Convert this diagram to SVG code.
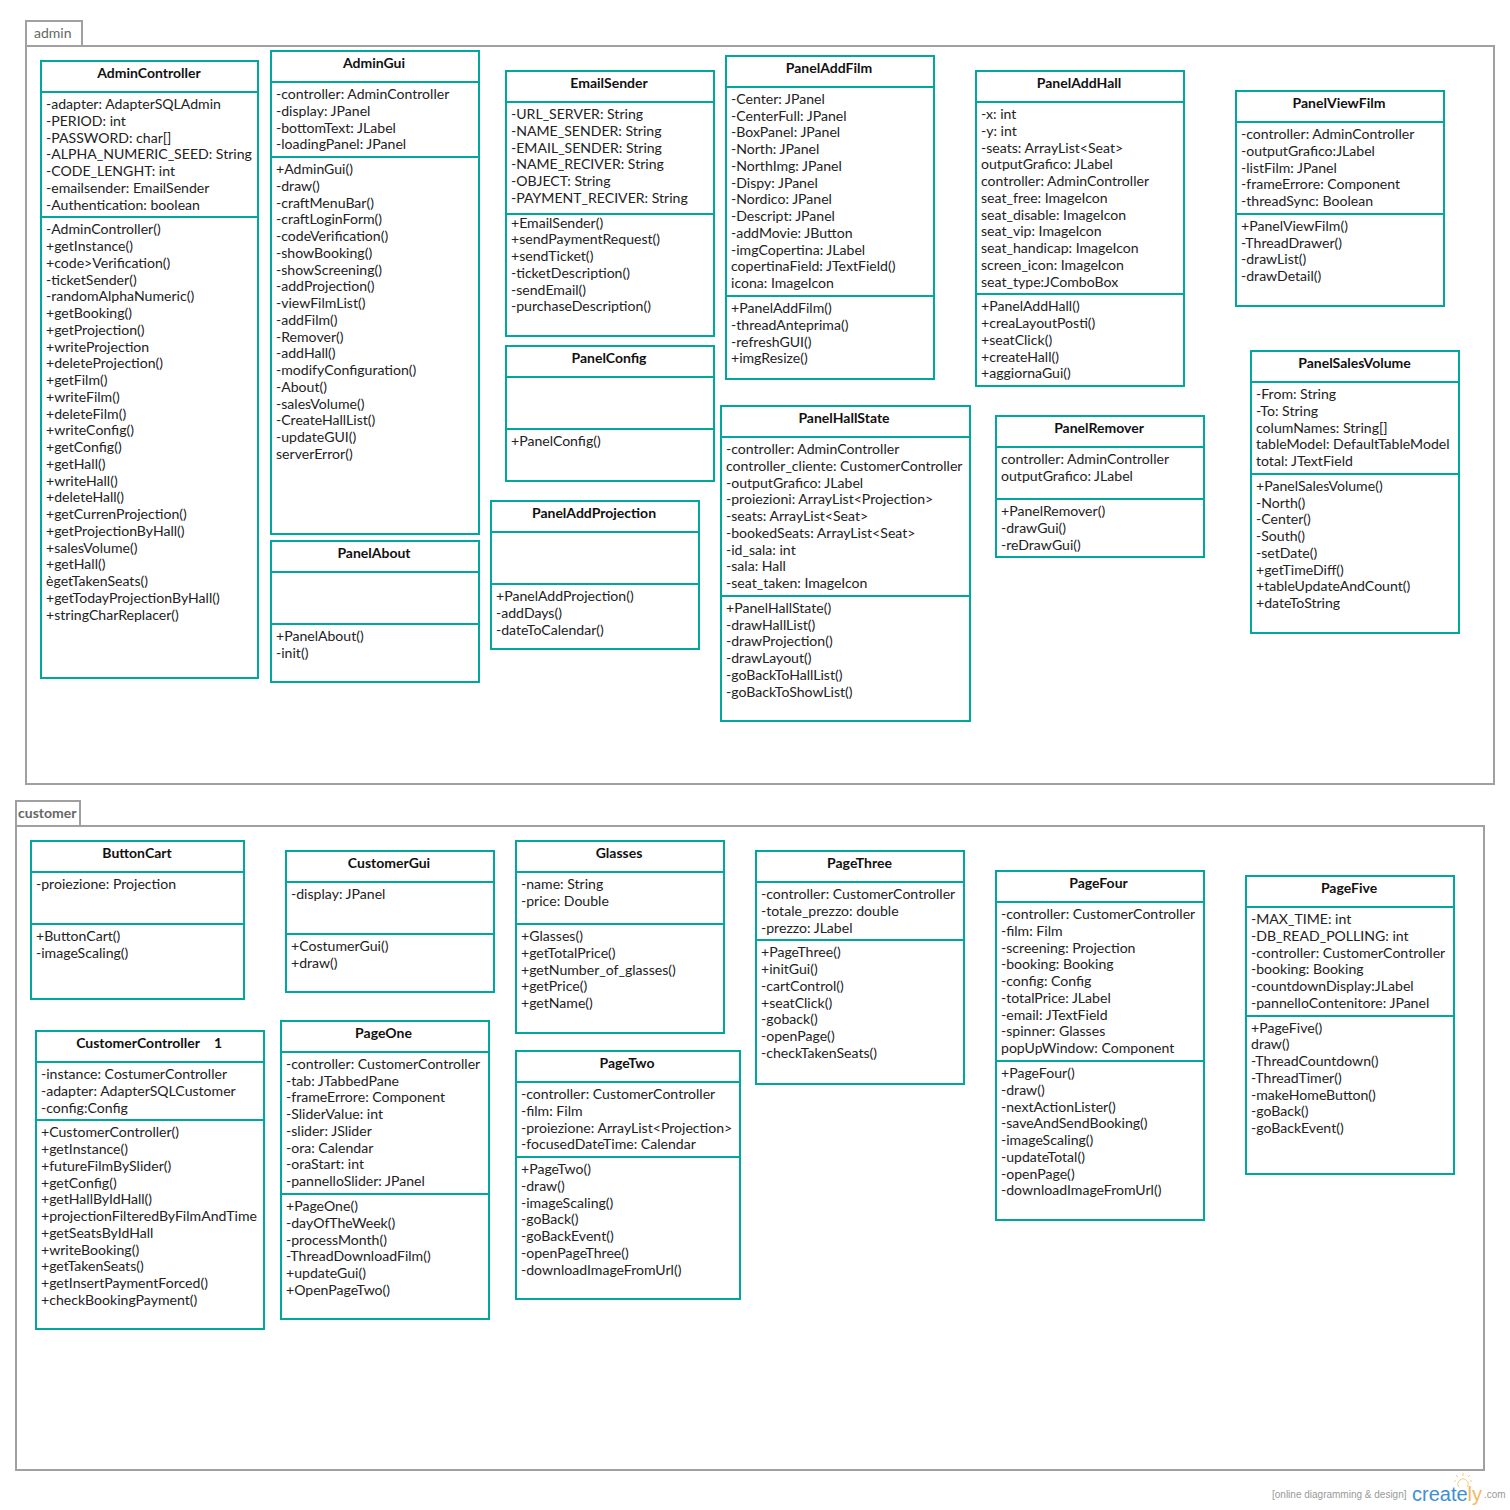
<svg xmlns="http://www.w3.org/2000/svg" width="1510" height="1510" viewBox="0 0 1510 1510">
<style>
text{font-family:Lato,"Open Sans",sans-serif;font-size:14.08px;fill:#222}
.title{font-size:14px;font-weight:700;text-anchor:middle;fill:#111}
.box{fill:#fff;stroke:#00a79d;stroke-width:2}
.sep{stroke:#00a79d;stroke-width:2;fill:none}
.frame{fill:#fff;stroke:#a0a0a0;stroke-width:2}
.tab{font-size:14px;fill:#666}
.tabb{font-size:14px;font-weight:700;fill:#666}
.wm{font-family:"Liberation Sans",sans-serif;font-size:10px;fill:#999}
.logo{font-family:"Liberation Sans",sans-serif;font-size:20px;fill:#3f8fd2}
.bulb{fill:none;stroke:#f9c877;stroke-width:1}
</style>
<g id="pkg-admin"><rect class="frame" x="26" y="21" width="56" height="25"/><rect class="frame" x="26" y="46" width="1468" height="738"/><text class="tab" x="34" y="38">admin</text></g>
<g id="pkg-customer"><rect class="frame" x="16" y="801" width="64" height="25"/><rect class="frame" x="16" y="826" width="1468" height="644"/><text class="tabb" x="18" y="818">customer</text></g>
<g id="AdminController"><rect class="box" x="41" y="61" width="217" height="617"/><path class="sep" d="M41 92H258M41 217H258"/><text class="title" x="149" y="78">AdminController</text>
<text><tspan x="46" y="109">-adapter: AdapterSQLAdmin</tspan><tspan x="46" dy="16.75">-PERIOD: int</tspan><tspan x="46" dy="16.75">-PASSWORD: char[]</tspan><tspan x="46" dy="16.75">-ALPHA_NUMERIC_SEED: String</tspan><tspan x="46" dy="16.75">-CODE_LENGHT: int</tspan><tspan x="46" dy="16.75">-emailsender: EmailSender</tspan><tspan x="46" dy="16.75">-Authentication: boolean</tspan></text>
<text><tspan x="46" y="234.3">-AdminController()</tspan><tspan x="46" dy="16.75">+getInstance()</tspan><tspan x="46" dy="16.75">+code&gt;Verification()</tspan><tspan x="46" dy="16.75">-ticketSender()</tspan><tspan x="46" dy="16.75">-randomAlphaNumeric()</tspan><tspan x="46" dy="16.75">+getBooking()</tspan><tspan x="46" dy="16.75">+getProjection()</tspan><tspan x="46" dy="16.75">+writeProjection</tspan><tspan x="46" dy="16.75">+deleteProjection()</tspan><tspan x="46" dy="16.75">+getFilm()</tspan><tspan x="46" dy="16.75">+writeFilm()</tspan><tspan x="46" dy="16.75">+deleteFilm()</tspan><tspan x="46" dy="16.75">+writeConfig()</tspan><tspan x="46" dy="16.75">+getConfig()</tspan><tspan x="46" dy="16.75">+getHall()</tspan><tspan x="46" dy="16.75">+writeHall()</tspan><tspan x="46" dy="16.75">+deleteHall()</tspan><tspan x="46" dy="16.75">+getCurrenProjection()</tspan><tspan x="46" dy="16.75">+getProjectionByHall()</tspan><tspan x="46" dy="16.75">+salesVolume()</tspan><tspan x="46" dy="16.75">+getHall()</tspan><tspan x="46" dy="16.75">ègetTakenSeats()</tspan><tspan x="46" dy="16.75">+getTodayProjectionByHall()</tspan><tspan x="46" dy="16.75">+stringCharReplacer()</tspan></text></g>
<g id="AdminGui"><rect class="box" x="271" y="51" width="208" height="483"/><path class="sep" d="M271 82H479M271 157H479"/><text class="title" x="374" y="68">AdminGui</text>
<text><tspan x="276" y="99">-controller: AdminController</tspan><tspan x="276" dy="16.75">-display: JPanel</tspan><tspan x="276" dy="16.75">-bottomText: JLabel</tspan><tspan x="276" dy="16.75">-loadingPanel: JPanel</tspan></text>
<text><tspan x="276" y="174">+AdminGui()</tspan><tspan x="276" dy="16.75">-draw()</tspan><tspan x="276" dy="16.75">-craftMenuBar()</tspan><tspan x="276" dy="16.75">-craftLoginForm()</tspan><tspan x="276" dy="16.75">-codeVerification()</tspan><tspan x="276" dy="16.75">-showBooking()</tspan><tspan x="276" dy="16.75">-showScreening()</tspan><tspan x="276" dy="16.75">-addProjection()</tspan><tspan x="276" dy="16.75">-viewFilmList()</tspan><tspan x="276" dy="16.75">-addFilm()</tspan><tspan x="276" dy="16.75">-Remover()</tspan><tspan x="276" dy="16.75">-addHall()</tspan><tspan x="276" dy="16.75">-modifyConfiguration()</tspan><tspan x="276" dy="16.75">-About()</tspan><tspan x="276" dy="16.75">-salesVolume()</tspan><tspan x="276" dy="16.75">-CreateHallList()</tspan><tspan x="276" dy="16.75">-updateGUI()</tspan><tspan x="276" dy="16.75">serverError()</tspan></text></g>
<g id="PanelAbout"><rect class="box" x="271" y="541" width="208" height="141"/><path class="sep" d="M271 572H479M271 624H479"/><text class="title" x="374" y="558">PanelAbout</text>
<text><tspan x="276" y="641">+PanelAbout()</tspan><tspan x="276" dy="16.75">-init()</tspan></text></g>
<g id="EmailSender"><rect class="box" x="506" y="71" width="208" height="265"/><path class="sep" d="M506 102H714M506 214H714"/><text class="title" x="609" y="88">EmailSender</text>
<text><tspan x="511" y="119">-URL_SERVER: String</tspan><tspan x="511" dy="16.75">-NAME_SENDER: String</tspan><tspan x="511" dy="16.75">-EMAIL_SENDER: String</tspan><tspan x="511" dy="16.75">-NAME_RECIVER: String</tspan><tspan x="511" dy="16.75">-OBJECT: String</tspan><tspan x="511" dy="16.75">-PAYMENT_RECIVER: String</tspan></text>
<text><tspan x="511" y="227.6">+EmailSender()</tspan><tspan x="511" dy="16.75">+sendPaymentRequest()</tspan><tspan x="511" dy="16.75">+sendTicket()</tspan><tspan x="511" dy="16.75">-ticketDescription()</tspan><tspan x="511" dy="16.75">-sendEmail()</tspan><tspan x="511" dy="16.75">-purchaseDescription()</tspan></text></g>
<g id="PanelConfig"><rect class="box" x="506" y="346" width="208" height="135"/><path class="sep" d="M506 377H714M506 429H714"/><text class="title" x="609" y="363">PanelConfig</text>
<text x="511" y="446">+PanelConfig()</text></g>
<g id="PanelAddProjection"><rect class="box" x="491" y="501" width="208" height="148"/><path class="sep" d="M491 532H699M491 584H699"/><text class="title" x="594" y="518">PanelAddProjection</text>
<text><tspan x="496" y="601">+PanelAddProjection()</tspan><tspan x="496" dy="16.75">-addDays()</tspan><tspan x="496" dy="16.75">-dateToCalendar()</tspan></text></g>
<g id="PanelAddFilm"><rect class="box" x="726" y="56" width="208" height="323"/><path class="sep" d="M726 87H934M726 296H934"/><text class="title" x="829" y="73">PanelAddFilm</text>
<text><tspan x="731" y="103.9">-Center: JPanel</tspan><tspan x="731" dy="16.75">-CenterFull: JPanel</tspan><tspan x="731" dy="16.75">-BoxPanel: JPanel</tspan><tspan x="731" dy="16.75">-North: JPanel</tspan><tspan x="731" dy="16.75">-NorthImg: JPanel</tspan><tspan x="731" dy="16.75">-Dispy: JPanel</tspan><tspan x="731" dy="16.75">-Nordico: JPanel</tspan><tspan x="731" dy="16.75">-Descript: JPanel</tspan><tspan x="731" dy="16.75">-addMovie: JButton</tspan><tspan x="731" dy="16.75">-imgCopertina: JLabel</tspan><tspan x="731" dy="16.75">copertinaField: JTextField()</tspan><tspan x="731" dy="16.75">icona: ImageIcon</tspan></text>
<text><tspan x="731" y="313">+PanelAddFilm()</tspan><tspan x="731" dy="16.75">-threadAnteprima()</tspan><tspan x="731" dy="16.75">-refreshGUI()</tspan><tspan x="731" dy="16.75">+imgResize()</tspan></text></g>
<g id="PanelHallState"><rect class="box" x="721" y="406" width="249" height="315"/><path class="sep" d="M721 437H970M721 596H970"/><text class="title" x="844" y="423">PanelHallState</text>
<text><tspan x="726" y="454">-controller: AdminController</tspan><tspan x="726" dy="16.75">controller_cliente: CustomerController</tspan><tspan x="726" dy="16.75">-outputGrafico: JLabel</tspan><tspan x="726" dy="16.75">-proiezioni: ArrayList&lt;Projection&gt;</tspan><tspan x="726" dy="16.75">-seats: ArrayList&lt;Seat&gt;</tspan><tspan x="726" dy="16.75">-bookedSeats: ArrayList&lt;Seat&gt;</tspan><tspan x="726" dy="16.75">-id_sala: int</tspan><tspan x="726" dy="16.75">-sala: Hall</tspan><tspan x="726" dy="16.75">-seat_taken: ImageIcon</tspan></text>
<text><tspan x="726" y="612.9">+PanelHallState()</tspan><tspan x="726" dy="16.75">-drawHallList()</tspan><tspan x="726" dy="16.75">-drawProjection()</tspan><tspan x="726" dy="16.75">-drawLayout()</tspan><tspan x="726" dy="16.75">-goBackToHallList()</tspan><tspan x="726" dy="16.75">-goBackToShowList()</tspan></text></g>
<g id="PanelAddHall"><rect class="box" x="976" y="71" width="208" height="315"/><path class="sep" d="M976 102H1184M976 294H1184"/><text class="title" x="1079" y="88">PanelAddHall</text>
<text><tspan x="981" y="119">-x: int</tspan><tspan x="981" dy="16.75">-y: int</tspan><tspan x="981" dy="16.75">-seats: ArrayList&lt;Seat&gt;</tspan><tspan x="981" dy="16.75">outputGrafico: JLabel</tspan><tspan x="981" dy="16.75">controller: AdminController</tspan><tspan x="981" dy="16.75">seat_free: ImageIcon</tspan><tspan x="981" dy="16.75">seat_disable: ImageIcon</tspan><tspan x="981" dy="16.75">seat_vip: ImageIcon</tspan><tspan x="981" dy="16.75">seat_handicap: ImageIcon</tspan><tspan x="981" dy="16.75">screen_icon: ImageIcon</tspan><tspan x="981" dy="16.75">seat_type:JComboBox</tspan></text>
<text><tspan x="981" y="311.3">+PanelAddHall()</tspan><tspan x="981" dy="16.75">+creaLayoutPosti()</tspan><tspan x="981" dy="16.75">+seatClick()</tspan><tspan x="981" dy="16.75">+createHall()</tspan><tspan x="981" dy="16.75">+aggiornaGui()</tspan></text></g>
<g id="PanelRemover"><rect class="box" x="996" y="416" width="208" height="141"/><path class="sep" d="M996 447H1204M996 499H1204"/><text class="title" x="1099" y="433">PanelRemover</text>
<text><tspan x="1001" y="464">controller: AdminController</tspan><tspan x="1001" dy="16.75">outputGrafico: JLabel</tspan></text>
<text><tspan x="1001" y="516">+PanelRemover()</tspan><tspan x="1001" dy="16.75">-drawGui()</tspan><tspan x="1001" dy="16.75">-reDrawGui()</tspan></text></g>
<g id="PanelViewFilm"><rect class="box" x="1236" y="91" width="208" height="215"/><path class="sep" d="M1236 122H1444M1236 214H1444"/><text class="title" x="1339" y="108">PanelViewFilm</text>
<text><tspan x="1241" y="139">-controller: AdminController</tspan><tspan x="1241" dy="16.75">-outputGrafico:JLabel</tspan><tspan x="1241" dy="16.75">-listFilm: JPanel</tspan><tspan x="1241" dy="16.75">-frameErrore: Component</tspan><tspan x="1241" dy="16.75">-threadSync: Boolean</tspan></text>
<text><tspan x="1241" y="230.9">+PanelViewFilm()</tspan><tspan x="1241" dy="16.75">-ThreadDrawer()</tspan><tspan x="1241" dy="16.75">-drawList()</tspan><tspan x="1241" dy="16.75">-drawDetail()</tspan></text></g>
<g id="PanelSalesVolume"><rect class="box" x="1251" y="351" width="208" height="282"/><path class="sep" d="M1251 382H1459M1251 474H1459"/><text class="title" x="1354.5" y="368">PanelSalesVolume</text>
<text><tspan x="1256" y="399">-From: String</tspan><tspan x="1256" dy="16.75">-To: String</tspan><tspan x="1256" dy="16.75">columNames: String[]</tspan><tspan x="1256" dy="16.75">tableModel: DefaultTableModel</tspan><tspan x="1256" dy="16.75">total: JTextField</tspan></text>
<text><tspan x="1256" y="490.9">+PanelSalesVolume()</tspan><tspan x="1256" dy="16.75">-North()</tspan><tspan x="1256" dy="16.75">-Center()</tspan><tspan x="1256" dy="16.75">-South()</tspan><tspan x="1256" dy="16.75">-setDate()</tspan><tspan x="1256" dy="16.75">+getTimeDiff()</tspan><tspan x="1256" dy="16.75">+tableUpdateAndCount()</tspan><tspan x="1256" dy="16.75">+dateToString</tspan></text></g>
<g id="ButtonCart"><rect class="box" x="31" y="841" width="213" height="158"/><path class="sep" d="M31 872H244M31 924H244"/><text class="title" x="137" y="858">ButtonCart</text>
<text x="36" y="889">-proiezione: Projection</text>
<text><tspan x="36" y="941">+ButtonCart()</tspan><tspan x="36" dy="16.75">-imageScaling()</tspan></text></g>
<g id="CustomerGui"><rect class="box" x="286" y="851" width="208" height="141"/><path class="sep" d="M286 882H494M286 934H494"/><text class="title" x="389" y="868">CustomerGui</text>
<text x="291" y="899">-display: JPanel</text>
<text><tspan x="291" y="951">+CostumerGui()</tspan><tspan x="291" dy="16.75">+draw()</tspan></text></g>
<g id="Glasses"><rect class="box" x="516" y="841" width="208" height="192"/><path class="sep" d="M516 872H724M516 924H724"/><text class="title" x="619" y="858">Glasses</text>
<text><tspan x="521" y="889">-name: String</tspan><tspan x="521" dy="16.75">-price: Double</tspan></text>
<text><tspan x="521" y="941">+Glasses()</tspan><tspan x="521" dy="16.75">+getTotalPrice()</tspan><tspan x="521" dy="16.75">+getNumber_of_glasses()</tspan><tspan x="521" dy="16.75">+getPrice()</tspan><tspan x="521" dy="16.75">+getName()</tspan></text></g>
<g id="PageThree"><rect class="box" x="756" y="851" width="208" height="233"/><path class="sep" d="M756 882H964M756 940H964"/><text class="title" x="859.5" y="868">PageThree</text>
<text><tspan x="761" y="899">-controller: CustomerController</tspan><tspan x="761" dy="16.75">-totale_prezzo: double</tspan><tspan x="761" dy="16.75">-prezzo: JLabel</tspan></text>
<text><tspan x="761" y="957.3">+PageThree()</tspan><tspan x="761" dy="16.75">+initGui()</tspan><tspan x="761" dy="16.75">-cartControl()</tspan><tspan x="761" dy="16.75">+seatClick()</tspan><tspan x="761" dy="16.75">-goback()</tspan><tspan x="761" dy="16.75">-openPage()</tspan><tspan x="761" dy="16.75">-checkTakenSeats()</tspan></text></g>
<g id="PageFour"><rect class="box" x="996" y="871" width="208" height="349"/><path class="sep" d="M996 902H1204M996 1061H1204"/><text class="title" x="1098.5" y="888">PageFour</text>
<text><tspan x="1001" y="919">-controller: CustomerController</tspan><tspan x="1001" dy="16.75">-film: Film</tspan><tspan x="1001" dy="16.75">-screening: Projection</tspan><tspan x="1001" dy="16.75">-booking: Booking</tspan><tspan x="1001" dy="16.75">-config: Config</tspan><tspan x="1001" dy="16.75">-totalPrice: JLabel</tspan><tspan x="1001" dy="16.75">-email: JTextField</tspan><tspan x="1001" dy="16.75">-spinner: Glasses</tspan><tspan x="1001" dy="16.75">popUpWindow: Component</tspan></text>
<text><tspan x="1001" y="1078">+PageFour()</tspan><tspan x="1001" dy="16.75">-draw()</tspan><tspan x="1001" dy="16.75">-nextActionLister()</tspan><tspan x="1001" dy="16.75">-saveAndSendBooking()</tspan><tspan x="1001" dy="16.75">-imageScaling()</tspan><tspan x="1001" dy="16.75">-updateTotal()</tspan><tspan x="1001" dy="16.75">-openPage()</tspan><tspan x="1001" dy="16.75">-downloadImageFromUrl()</tspan></text></g>
<g id="PageFive"><rect class="box" x="1246" y="876" width="208" height="298"/><path class="sep" d="M1246 907H1454M1246 1016H1454"/><text class="title" x="1349" y="893">PageFive</text>
<text><tspan x="1251" y="924">-MAX_TIME: int</tspan><tspan x="1251" dy="16.75">-DB_READ_POLLING: int</tspan><tspan x="1251" dy="16.75">-controller: CustomerController</tspan><tspan x="1251" dy="16.75">-booking: Booking</tspan><tspan x="1251" dy="16.75">-countdownDisplay:JLabel</tspan><tspan x="1251" dy="16.75">-pannelloContenitore: JPanel</tspan></text>
<text><tspan x="1251" y="1032.6">+PageFive()</tspan><tspan x="1251" dy="16.75">draw()</tspan><tspan x="1251" dy="16.75">-ThreadCountdown()</tspan><tspan x="1251" dy="16.75">-ThreadTimer()</tspan><tspan x="1251" dy="16.75">-makeHomeButton()</tspan><tspan x="1251" dy="16.75">-goBack()</tspan><tspan x="1251" dy="16.75">-goBackEvent()</tspan></text></g>
<g id="CustomerController"><rect class="box" x="36" y="1031" width="228" height="298"/><path class="sep" d="M36 1062H264M36 1120H264"/><text class="title" x="138" y="1048">CustomerController</text><text class="title" x="218" y="1048">1</text>
<text><tspan x="41" y="1079">-instance: CostumerController</tspan><tspan x="41" dy="16.75">-adapter: AdapterSQLCustomer</tspan><tspan x="41" dy="16.75">-config:Config</tspan></text>
<text><tspan x="41" y="1137.3">+CustomerController()</tspan><tspan x="41" dy="16.75">+getInstance()</tspan><tspan x="41" dy="16.75">+futureFilmBySlider()</tspan><tspan x="41" dy="16.75">+getConfig()</tspan><tspan x="41" dy="16.75">+getHallByIdHall()</tspan><tspan x="41" dy="16.75">+projectionFilteredByFilmAndTime</tspan><tspan x="41" dy="16.75">+getSeatsByIdHall</tspan><tspan x="41" dy="16.75">+writeBooking()</tspan><tspan x="41" dy="16.75">+getTakenSeats()</tspan><tspan x="41" dy="16.75">+getInsertPaymentForced()</tspan><tspan x="41" dy="16.75">+checkBookingPayment()</tspan></text></g>
<g id="PageOne"><rect class="box" x="281" y="1021" width="208" height="298"/><path class="sep" d="M281 1052H489M281 1194H489"/><text class="title" x="383.5" y="1038">PageOne</text>
<text><tspan x="286" y="1068.9">-controller: CustomerController</tspan><tspan x="286" dy="16.75">-tab: JTabbedPane</tspan><tspan x="286" dy="16.75">-frameErrore: Component</tspan><tspan x="286" dy="16.75">-SliderValue: int</tspan><tspan x="286" dy="16.75">-slider: JSlider</tspan><tspan x="286" dy="16.75">-ora: Calendar</tspan><tspan x="286" dy="16.75">-oraStart: int</tspan><tspan x="286" dy="16.75">-pannelloSlider: JPanel</tspan></text>
<text><tspan x="286" y="1211">+PageOne()</tspan><tspan x="286" dy="16.75">-dayOfTheWeek()</tspan><tspan x="286" dy="16.75">-processMonth()</tspan><tspan x="286" dy="16.75">-ThreadDownloadFilm()</tspan><tspan x="286" dy="16.75">+updateGui()</tspan><tspan x="286" dy="16.75">+OpenPageTwo()</tspan></text></g>
<g id="PageTwo"><rect class="box" x="516" y="1051" width="224" height="248"/><path class="sep" d="M516 1082H740M516 1157H740"/><text class="title" x="627" y="1068">PageTwo</text>
<text><tspan x="521" y="1099">-controller: CustomerController</tspan><tspan x="521" dy="16.75">-film: Film</tspan><tspan x="521" dy="16.75">-proiezione: ArrayList&lt;Projection&gt;</tspan><tspan x="521" dy="16.75">-focusedDateTime: Calendar</tspan></text>
<text><tspan x="521" y="1174">+PageTwo()</tspan><tspan x="521" dy="16.75">-draw()</tspan><tspan x="521" dy="16.75">-imageScaling()</tspan><tspan x="521" dy="16.75">-goBack()</tspan><tspan x="521" dy="16.75">-goBackEvent()</tspan><tspan x="521" dy="16.75">-openPageThree()</tspan><tspan x="521" dy="16.75">-downloadImageFromUrl()</tspan></text></g>
<g id="connectors"></g>
<g id="watermark"><text class="wm" x="1272" y="1498">[online diagramming &amp; design]</text><text class="logo" x="1412" y="1501">create<tspan fill="#f5b75c">ly</tspan></text><text class="wm" x="1484" y="1498">.com</text><path class="bulb" d="M1459 1487a5 5 0 1 1 8 0M1463 1473v3M1456 1475l2 2M1470 1475l-2 2M1454 1481h2M1470 1481h2"/></g>
</svg>
